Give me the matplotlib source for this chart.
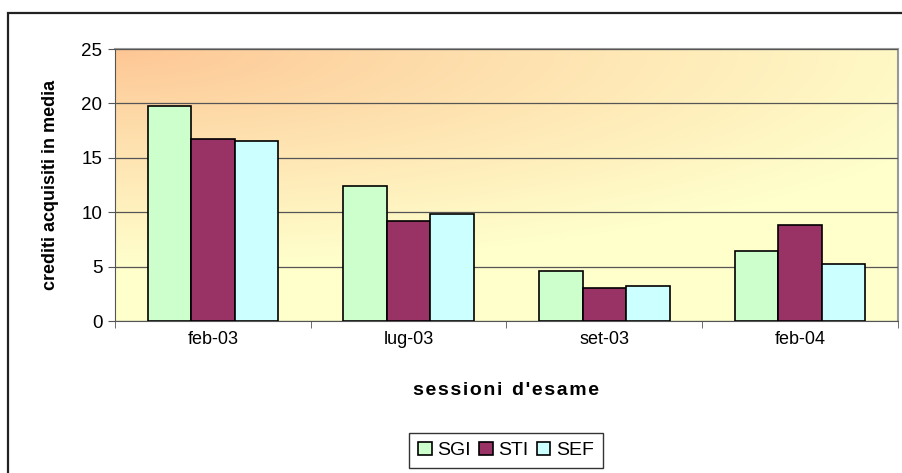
import numpy as np
import matplotlib
matplotlib.use("Agg")
import matplotlib.pyplot as plt
from matplotlib.patches import Rectangle

plt.rcParams['font.family'] = ['Liberation Sans', 'DejaVu Sans']

# dati
sessioni = ['feb-03', 'lug-03', 'set-03', 'feb-04']
sgi = [19.8, 12.4, 4.6, 6.4]
sti = [16.7, 9.2, 3.0, 8.8]
sef = [16.5, 9.8, 3.2, 5.2]
serie = ['SGI', 'STI', 'SEF']
colori = ['#CCFFCC', '#993366', '#CCFFFF']

fig = plt.figure(figsize=(9.03, 4.73), dpi=100)
ax = fig.add_axes([115/903, 1 - 321/473, 783/903, 272/473])

# sfondo sfumato (arancio in alto a sinistra -> giallo chiaro)
gx, gy = np.meshgrid(np.linspace(0, 1, 300), np.linspace(0, 1, 200))
t = np.clip(np.sqrt((gx / 1.15) ** 2 + (gy / 0.8) ** 2), 0, 1) ** 0.9
c0 = np.array([253, 198, 148]) / 255
c1 = np.array([255, 255, 204]) / 255
img = c0[None, None, :] * (1 - t[..., None]) + c1[None, None, :] * t[..., None]
ax.imshow(img, extent=[0, 1, 0, 1], origin='upper', transform=ax.transAxes,
          aspect='auto', zorder=0)

x = np.arange(len(sessioni))
w = 1 / 4.5
for i, (vals, nome) in enumerate(zip([sgi, sti, sef], serie)):
    ax.bar(x + (i - 1) * w, vals, width=w, color=colori[i], edgecolor='black',
           linewidth=1.2, label=nome, zorder=3)

ax.set_xlim(-0.5, len(sessioni) - 0.5)
ax.set_ylim(0, 25)
ax.set_yticks([0, 5, 10, 15, 20, 25])
ax.yaxis.grid(True, color='#555555', linewidth=0.9, zorder=1)
ax.set_axisbelow(False)
ax.set_xticks(x)
ax.set_xticklabels(sessioni, fontsize=13)
ax.set_xticks(np.arange(len(sessioni) + 1) - 0.5, minor=True)
ax.tick_params(axis='x', which='major', length=0, pad=7)
ax.tick_params(axis='x', which='minor', length=5, color='#555555')
ax.tick_params(axis='y', length=5, color='#555555', labelsize=13.5, pad=4)

for s in ['left', 'bottom']:
    ax.spines[s].set_color('#555555')
for s in ['top', 'right']:
    ax.spines[s].set_color('#999999')
    ax.spines[s].set_linewidth(1.5)

ax.set_ylabel('crediti acquisiti in media', fontsize=13, fontweight='bold', labelpad=16)
ax.set_xlabel("s e s s i o n i   d ' e s a m e".replace('   ', '\u2002').replace(' ', '\u200a'),
              fontsize=14, fontweight='bold', labelpad=25)

fig.legend(loc='upper center', bbox_to_anchor=(506/903, 1 - 433/473), ncol=3,
           fontsize=14, frameon=True, fancybox=False, edgecolor='black',
           handlelength=0.7, handleheight=0.7, handletextpad=0.3,
           columnspacing=0.4, borderpad=0.45, borderaxespad=0)

# cornice esterna
fig.patches.append(Rectangle((8/903, -0.1), 1.1, 1 - 13/473 + 0.1, transform=fig.transFigure,
                             fill=False, edgecolor='#222222', linewidth=1.6))

fig.savefig('out.png', dpi=100)
